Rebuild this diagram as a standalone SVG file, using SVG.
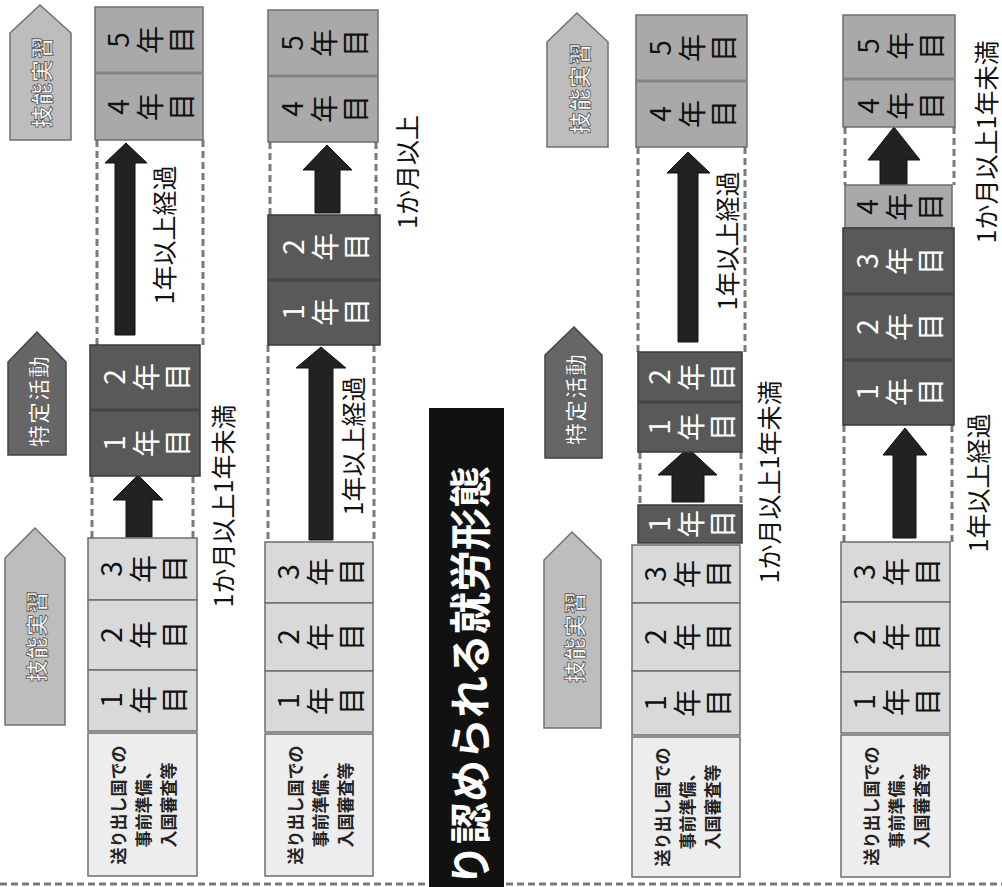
<svg xmlns="http://www.w3.org/2000/svg" width="1002" height="887" viewBox="0 0 1002 887">
<style>
text{font-family:"Noto Sans CJK JP","Noto Sans",sans-serif;dominant-baseline:central;}
.bl{fill:#d9d9d9;stroke:#6e6e6e;stroke-width:1.5;}
.bb{fill:#ededed;stroke:#6e6e6e;stroke-width:1.5;}
.bm{fill:#a9a9a9;stroke:#6e6e6e;stroke-width:1.5;}
.bd{fill:#595959;stroke:#3a3a3a;stroke-width:1.5;}
.sep{stroke:#000;stroke-opacity:0.22;stroke-width:3;}
.tl{fill:#bdbdbd;stroke:#707070;stroke-width:1.5;}
.td{fill:#666;stroke:#444;stroke-width:1.5;}
.tt{font-size:22px;font-weight:700;fill:#fff;stroke:#555;stroke-width:0.8;text-anchor:middle;letter-spacing:1px;}
.yk{font-size:28px;fill:#111;text-anchor:middle;}
.yw{font-size:28px;fill:#fff;text-anchor:middle;}
.bt{font-size:17px;font-weight:700;fill:#222;text-anchor:middle;}
.lb{font-size:25px;fill:#111;text-anchor:middle;}
.dash{stroke:#7a7a7a;stroke-width:3;stroke-dasharray:7 4;fill:none;}
.arr{fill:#222;stroke:#111;stroke-width:1;}
</style>

<g id="bottom-line"><line class="dash" x1="0" y1="884" x2="1002" y2="884"/></g>

<g id="title">
<rect x="429" y="408" width="75" height="479" fill="#111"/>
<text transform="translate(467,886) rotate(-90)" font-size="42" font-weight="700" fill="#fff">り認められる就労形態</text>
</g>

<g id="tags">
<g id="tag1"><polygon class="tl" points="10,140 10,33 40,5 71,33 71,140"/><text class="tt" transform="translate(40,82) rotate(-90)">技能実習</text></g>
<g id="tag2"><polygon class="td" points="8,455 8,362 37,332 66,362 66,455"/><text class="tt" transform="translate(37,401) rotate(-90)">特定活動</text></g>
<g id="tag3"><polygon class="tl" points="5,725 5,558 35,528 65,558 65,725"/><text class="tt" transform="translate(35,636) rotate(-90)">技能実習</text></g>
<g id="tag4"><polygon class="tl" points="547,147 547,42 577,13 608,42 608,147"/><text class="tt" transform="translate(578,88) rotate(-90)">技能実習</text></g>
<g id="tag5"><polygon class="td" points="545,458 545,355 574,327 602,355 602,458"/><text class="tt" transform="translate(574,399) rotate(-90)">特定活動</text></g>
<g id="tag6"><polygon class="tl" points="544,728 544,560 572,532 601,560 601,728"/><text class="tt" transform="translate(573,637) rotate(-90)">技能実習</text></g>
</g>

<g id="connectors">
<line class="dash" x1="97" y1="140" x2="97" y2="345"/><line class="dash" x1="203" y1="140" x2="203" y2="345"/>
<line class="dash" x1="92" y1="476" x2="92" y2="538"/><line class="dash" x1="193" y1="476" x2="193" y2="538"/>
<line class="dash" x1="270" y1="142" x2="270" y2="215"/><line class="dash" x1="376" y1="142" x2="376" y2="215"/>
<line class="dash" x1="268" y1="345" x2="268" y2="542"/><line class="dash" x1="374" y1="345" x2="374" y2="542"/>
<line class="dash" x1="638" y1="147" x2="638" y2="352"/><line class="dash" x1="745" y1="147" x2="745" y2="352"/>
<line class="dash" x1="640" y1="452" x2="640" y2="505"/><line class="dash" x1="741" y1="452" x2="741" y2="505"/>
<line class="dash" x1="845" y1="127" x2="845" y2="185"/><line class="dash" x1="954" y1="127" x2="954" y2="185"/>
<line class="dash" x1="844" y1="425" x2="844" y2="542"/><line class="dash" x1="952" y1="425" x2="952" y2="542"/>
<polygon class="arr" points="126,143 147,163 135,163 135,335 115,335 115,163 105,163"/>
<polygon class="arr" points="138,475 163,500 152,500 152,537 126,537 126,500 113,500"/>
<polygon class="arr" points="327,145 352,170 340,170 340,213 315,213 315,170 303,170"/>
<polygon class="arr" points="321,347 346,368 333,368 333,540 309,540 309,368 296,368"/>
<polygon class="arr" points="688,152 710,173 698,173 698,342 678,342 678,173 667,173"/>
<polygon class="arr" points="688,448 717,475 704,475 704,502 672,502 672,475 658,475"/>
<polygon class="arr" points="894,127 920,160 907,160 907,185 880,185 880,160 868,160"/>
<polygon class="arr" points="905,428 927,455 916,455 916,538 893,538 893,455 883,455"/>
</g>

<g id="labels">
<text class="lb" transform="translate(163,235) rotate(-90)">1年以上経過</text>
<text class="lb" transform="translate(222,506) rotate(-90)">1か月以上1年未満</text>
<text class="lb" transform="translate(406,172) rotate(-90)">1か月以上</text>
<text class="lb" transform="translate(352,446) rotate(-90)">1年以上経過</text>
<text class="lb" transform="translate(726,241) rotate(-90)">1年以上経過</text>
<text class="lb" transform="translate(768,482) rotate(-90)">1か月以上1年未満</text>
<text class="lb" transform="translate(985,142) rotate(-90)">1か月以上1年未満</text>
<text class="lb" transform="translate(977,483) rotate(-90)">1年以上経過</text>
</g>

<!-- Row 1 -->
<g id="r1-top"><rect class="bm" x="95" y="7" width="108" height="133"/><line class="sep" x1="96" y1="73" x2="202" y2="73"/>
<text class="yk" transform="translate(149,40) rotate(-90)" x="0 0 0" y="-32 0 31">5年目</text>
<text class="yk" transform="translate(149,107) rotate(-90)" x="0 0 0" y="-32 0 31">4年目</text></g>
<g id="r1-dark"><rect class="bd" x="90" y="345" width="110" height="131"/><line class="sep" x1="91" y1="410" x2="199" y2="410"/>
<text class="yw" transform="translate(145,377) rotate(-90)" x="0 0 0" y="-32 0 31">2年目</text>
<text class="yw" transform="translate(145,443) rotate(-90)" x="0 0 0" y="-32 0 31">1年目</text></g>
<g id="r1-y3"><rect class="bl" x="88" y="538" width="109" height="62"/><text class="yk" transform="translate(142,569) rotate(-90)" x="0 0 0" y="-32 0 31">3年目</text></g>
<g id="r1-y2"><rect class="bl" x="88" y="600" width="109" height="70"/><text class="yk" transform="translate(142,635) rotate(-90)" x="0 0 0" y="-32 0 31">2年目</text></g>
<g id="r1-y1"><rect class="bl" x="88" y="670" width="109" height="61"/><text class="yk" transform="translate(142,700) rotate(-90)" x="0 0 0" y="-32 0 31">1年目</text></g>
<g id="r1-prep"><rect class="bb" x="88" y="733" width="109" height="143"/>
<text class="bt" transform="translate(117,805) rotate(-90)">送り出し国での</text>
<text class="bt" transform="translate(142,805) rotate(-90)">事前準備、</text>
<text class="bt" transform="translate(167,805) rotate(-90)">入国審査等</text></g>

<!-- Row 2 -->
<g id="r2-top"><rect class="bm" x="268" y="10" width="110" height="132"/><line class="sep" x1="269" y1="76" x2="377" y2="76"/>
<text class="yk" transform="translate(323,43) rotate(-90)" x="0 0 0" y="-32 0 31">5年目</text>
<text class="yk" transform="translate(323,109) rotate(-90)" x="0 0 0" y="-32 0 31">4年目</text></g>
<g id="r2-dark"><rect class="bd" x="268" y="215" width="112" height="130"/><line class="sep" x1="269" y1="280" x2="379" y2="280"/>
<text class="yw" transform="translate(324,247) rotate(-90)" x="0 0 0" y="-32 0 31">2年目</text>
<text class="yw" transform="translate(324,312) rotate(-90)" x="0 0 0" y="-32 0 31">1年目</text></g>
<g id="r2-y3"><rect class="bl" x="265" y="542" width="108" height="61"/><text class="yk" transform="translate(319,572) rotate(-90)" x="0 0 0" y="-32 0 31">3年目</text></g>
<g id="r2-y2"><rect class="bl" x="265" y="603" width="108" height="68"/><text class="yk" transform="translate(319,637) rotate(-90)" x="0 0 0" y="-32 0 31">2年目</text></g>
<g id="r2-y1"><rect class="bl" x="265" y="671" width="108" height="61"/><text class="yk" transform="translate(319,701) rotate(-90)" x="0 0 0" y="-32 0 31">1年目</text></g>
<g id="r2-prep"><rect class="bb" x="265" y="734" width="108" height="142"/>
<text class="bt" transform="translate(294,805) rotate(-90)">送り出し国での</text>
<text class="bt" transform="translate(319,805) rotate(-90)">事前準備、</text>
<text class="bt" transform="translate(344,805) rotate(-90)">入国審査等</text></g>

<!-- Row 3 -->
<g id="r3-top"><rect class="bm" x="636" y="15" width="111" height="132"/><line class="sep" x1="637" y1="81" x2="746" y2="81"/>
<text class="yk" transform="translate(691,48) rotate(-90)" x="0 0 0" y="-32 0 31">5年目</text>
<text class="yk" transform="translate(691,114) rotate(-90)" x="0 0 0" y="-32 0 31">4年目</text></g>
<g id="r3-dark"><rect class="bd" x="638" y="352" width="104" height="100"/><line class="sep" x1="639" y1="402" x2="741" y2="402"/>
<text class="yw" transform="translate(690,377) rotate(-90)" x="0 0 0" y="-32 0 31">2年目</text>
<text class="yw" transform="translate(690,427) rotate(-90)" x="0 0 0" y="-32 0 31">1年目</text></g>
<g id="r3-short"><rect class="bd" x="638" y="505" width="104" height="38"/><text class="yw" transform="translate(690,524) rotate(-90)" x="0 0 0" y="-32 0 31">1年目</text></g>
<g id="r3-y3"><rect class="bl" x="632" y="545" width="108" height="58"/><text class="yk" transform="translate(686,574) rotate(-90)" x="0 0 0" y="-32 0 31">3年目</text></g>
<g id="r3-y2"><rect class="bl" x="632" y="603" width="108" height="68"/><text class="yk" transform="translate(686,637) rotate(-90)" x="0 0 0" y="-32 0 31">2年目</text></g>
<g id="r3-y1"><rect class="bl" x="632" y="671" width="108" height="64"/><text class="yk" transform="translate(686,703) rotate(-90)" x="0 0 0" y="-32 0 31">1年目</text></g>
<g id="r3-prep"><rect class="bb" x="632" y="737" width="108" height="140"/>
<text class="bt" transform="translate(661,807) rotate(-90)">送り出し国での</text>
<text class="bt" transform="translate(686,807) rotate(-90)">事前準備、</text>
<text class="bt" transform="translate(711,807) rotate(-90)">入国審査等</text></g>

<!-- Row 4 -->
<g id="r4-top"><rect class="bm" x="843" y="15" width="112" height="112"/><line class="sep" x1="844" y1="79" x2="954" y2="79"/>
<text class="yk" transform="translate(899,46) rotate(-90)" x="0 0 0" y="-32 0 31">5年目</text>
<text class="yk" transform="translate(899,106) rotate(-90)" x="0 0 0" y="-32 0 31">4年目</text></g>
<g id="r4-y4"><rect class="bm" x="845" y="185" width="107" height="43"/><text class="yk" transform="translate(898,207) rotate(-90)" x="0 0 0" y="-32 0 31">4年目</text></g>
<g id="r4-dark"><rect class="bd" x="843" y="228" width="111" height="197"/><line class="sep" x1="844" y1="294" x2="953" y2="294"/><line class="sep" x1="844" y1="360" x2="953" y2="360"/>
<text class="yw" transform="translate(898,261) rotate(-90)" x="0 0 0" y="-32 0 31">3年目</text>
<text class="yw" transform="translate(898,327) rotate(-90)" x="0 0 0" y="-32 0 31">2年目</text>
<text class="yw" transform="translate(898,392) rotate(-90)" x="0 0 0" y="-32 0 31">1年目</text></g>
<g id="r4-y3"><rect class="bl" x="841" y="542" width="109" height="60"/><text class="yk" transform="translate(895,572) rotate(-90)" x="0 0 0" y="-32 0 31">3年目</text></g>
<g id="r4-y2"><rect class="bl" x="841" y="602" width="109" height="70"/><text class="yk" transform="translate(895,637) rotate(-90)" x="0 0 0" y="-32 0 31">2年目</text></g>
<g id="r4-y1"><rect class="bl" x="841" y="672" width="109" height="61"/><text class="yk" transform="translate(895,702) rotate(-90)" x="0 0 0" y="-32 0 31">1年目</text></g>
<g id="r4-prep"><rect class="bb" x="841" y="735" width="109" height="142"/>
<text class="bt" transform="translate(870,806) rotate(-90)">送り出し国での</text>
<text class="bt" transform="translate(895,806) rotate(-90)">事前準備、</text>
<text class="bt" transform="translate(920,806) rotate(-90)">入国審査等</text></g>
</svg>
